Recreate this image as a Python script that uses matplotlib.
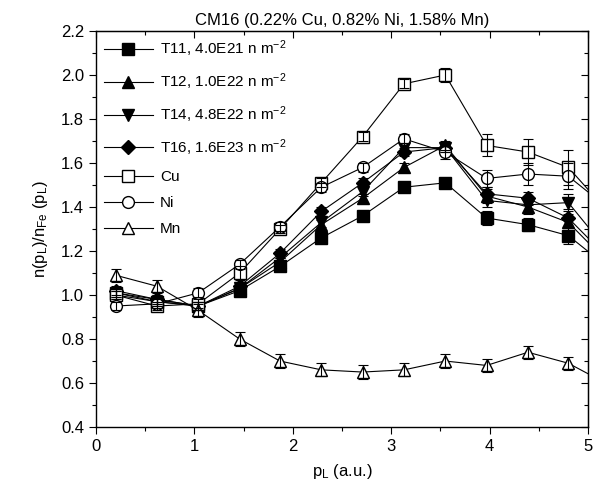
import matplotlib
matplotlib.use('Agg')
import matplotlib.pyplot as plt
from matplotlib.ticker import MultipleLocator, FormatStrFormatter

plt.rcParams['font.family'] = ['Liberation Sans', 'DejaVu Sans']
plt.rcParams['mathtext.default'] = 'regular'

# momentum positions (last point lies beyond the axis, only its line shows)
p_L = [0.20, 0.62, 1.04, 1.46, 1.87, 2.29, 2.71, 3.13, 3.55, 3.97, 4.39, 4.80, 5.22]

t11 = [1.01, 0.97, 0.95, 1.02, 1.13, 1.26, 1.36, 1.49, 1.51, 1.35, 1.32, 1.27, 1.12]
t12 = [1.01, 0.98, 0.95, 1.03, 1.15, 1.32, 1.44, 1.58, 1.68, 1.45, 1.40, 1.33, 1.14]
t14 = [1.00, 0.97, 0.95, 1.03, 1.17, 1.33, 1.47, 1.67, 1.67, 1.43, 1.41, 1.42, 1.19]
t16 = [1.02, 0.98, 0.95, 1.04, 1.19, 1.38, 1.51, 1.65, 1.67, 1.46, 1.44, 1.35, 1.16]
cu = [1.00, 0.95, 0.96, 1.10, 1.30, 1.51, 1.72, 1.96, 2.00, 1.68, 1.65, 1.58, 1.37]
ni = [0.95, 0.96, 1.01, 1.14, 1.31, 1.49, 1.58, 1.71, 1.65, 1.53, 1.55, 1.54, 1.39]
mn = [1.09, 1.04, 0.93, 0.80, 0.70, 0.66, 0.65, 0.66, 0.70, 0.68, 0.74, 0.69, 0.59]

err_t = [0.02, 0.02, 0.02, 0.02, 0.02, 0.02, 0.02, 0.02, 0.02, 0.03, 0.03, 0.04, 0.04]
err_cu = [0.02, 0.02, 0.02, 0.03, 0.02, 0.02, 0.02, 0.02, 0.03, 0.05, 0.06, 0.08, 0.08]
err_ni = [0.02, 0.02, 0.02, 0.02, 0.02, 0.02, 0.02, 0.02, 0.03, 0.04, 0.05, 0.06, 0.06]
err_mn = [0.03, 0.03, 0.03, 0.03, 0.03, 0.03, 0.03, 0.03, 0.03, 0.03, 0.03, 0.03, 0.03]

series = [
    ('T11, 4.0E21 n m$^{-2}$', t11, err_t, 's', 'black'),
    ('T12, 1.0E22 n m$^{-2}$', t12, err_t, '^', 'black'),
    ('T14, 4.8E22 n m$^{-2}$', t14, err_t, 'v', 'black'),
    ('T16, 1.6E23 n m$^{-2}$', t16, err_t, 'D', 'black'),
    ('Cu', cu, err_cu, 's', 'white'),
    ('Ni', ni, err_ni, 'o', 'white'),
    ('Mn', mn, err_mn, '^', 'white'),
]

fig = plt.figure(figsize=(6.0, 4.96), dpi=100)
ax = fig.add_axes([0.16, 0.139, 0.82, 0.7985])

for label, vals, err, mk, fc in series:
    ms = 8.5 if mk != 'D' else 7.5
    ax.plot(p_L, vals, marker=mk, color='black', mfc=fc, mec='black',
            ms=ms, lw=0.8, mew=1.0, label=label, zorder=2)
    ax.errorbar(p_L, vals, yerr=err, fmt='none', ecolor='black',
                elinewidth=0.8, capsize=3.5, capthick=0.8, zorder=3)

ax.set_xlim(0, 5)
ax.set_ylim(0.4, 2.2)
ax.xaxis.set_major_locator(MultipleLocator(1))
ax.xaxis.set_minor_locator(MultipleLocator(0.5))
ax.yaxis.set_major_locator(MultipleLocator(0.2))
ax.yaxis.set_minor_locator(MultipleLocator(0.1))
ax.yaxis.set_major_formatter(FormatStrFormatter('%.1f'))
ax.tick_params(which='both', direction='out', labelsize=12, width=0.8)
ax.tick_params(which='major', length=5)
ax.tick_params(which='minor', length=3)
for s in ax.spines.values():
    s.set_linewidth(1.0)

# mirrored inward ticks on top and right
top = ax.secondary_xaxis('top')
top.xaxis.set_major_locator(MultipleLocator(1))
top.xaxis.set_minor_locator(MultipleLocator(0.5))
top.tick_params(which='both', direction='in', labeltop=False, width=0.8)
top.tick_params(which='major', length=5)
top.tick_params(which='minor', length=3)
right = ax.secondary_yaxis('right')
right.yaxis.set_major_locator(MultipleLocator(0.2))
right.yaxis.set_minor_locator(MultipleLocator(0.1))
right.tick_params(which='both', direction='in', labelright=False, width=0.8)
right.tick_params(which='major', length=5)
right.tick_params(which='minor', length=3)

ax.set_xlabel('p$_L$ (a.u.)', fontsize=12, labelpad=6)
ax.set_ylabel('n(p$_L$)/n$_{Fe}$ (p$_L$)', fontsize=12, labelpad=8)
ax.set_title('CM16 (0.22% Cu, 0.82% Ni, 1.58% Mn)', fontsize=12, pad=4)

ax.legend(loc='upper left', frameon=False, fontsize=11, handlelength=3.2,
          labelspacing=0.8, borderaxespad=0.2, handletextpad=0.5,
          borderpad=0.3, markerscale=1.0)

fig.savefig('out.png', dpi=100)
